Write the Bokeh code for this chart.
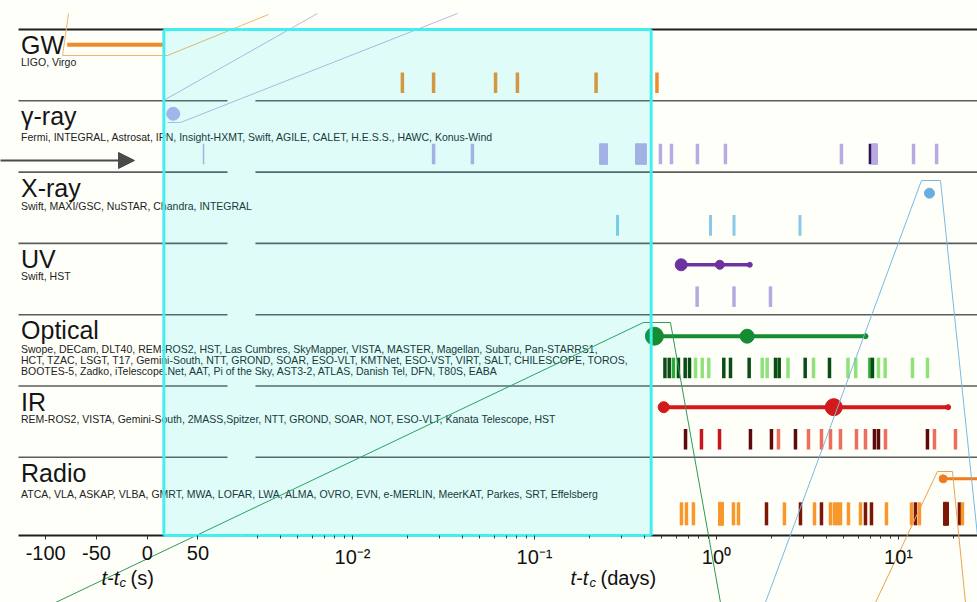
import numpy as np
from bokeh.plotting import figure
from bokeh.models import (Range1d, LinearScale, FixedTicker, CustomJSTickFormatter, Label,
                          Arrow, NormalHead, ColumnDataSource, LinearAxis, LogAxis)
from bokeh.embed import file_html
from bokeh.resources import INLINE
from bokeh.core.properties import value

# ---------------- data ----------------
bands = ["GW", "γ-ray", "X-ray", "UV", "Optical", "IR", "Radio"]
instruments = [
    ["LIGO, Virgo"],
    ["Fermi, INTEGRAL, Astrosat, IPN, Insight-HXMT, Swift, AGILE, CALET, H.E.S.S., HAWC, Konus-Wind"],
    ["Swift, MAXI/GSC, NuSTAR, Chandra, INTEGRAL"],
    ["Swift, HST"],
    ["Swope, DECam, DLT40, REM-ROS2, HST, Las Cumbres, SkyMapper, VISTA, MASTER, Magellan, Subaru, Pan-STARRS1,",
     "HCT, TZAC, LSGT, T17, Gemini-South, NTT, GROND, SOAR, ESO-VLT, KMTNet, ESO-VST, VIRT, SALT, CHILESCOPE, TOROS,",
     "BOOTES-5, Zadko, iTelescope.Net, AAT, Pi of the Sky, AST3-2, ATLAS, Danish Tel, DFN, T80S, EABA"],
    ["REM-ROS2, VISTA, Gemini-South, 2MASS,Spitzer, NTT, GROND, SOAR, NOT, ESO-VLT, Kanata Telescope, HST"],
    ["ATCA, VLA, ASKAP, VLBA, GMRT, MWA, LOFAR, LWA, ALMA, OVRO, EVN, e-MERLIN, MeerKAT, Parkes, SRT, Effelsberg"],
]

# seconds panel (t - tc in s)
gw_signal_s = [-78.8, 16.4]
grb_detect_s = [25.6]
gamma_obs_s = [55.5]

# days panel (t - tc in days)
gw_obs_d = [0.0188, 0.0279, 0.0611, 0.0806, 0.218, 0.471]
gamma_obs_d = [0.0279, 0.0456, 0.492, 0.566, 0.786, 1.12, 4.86, 12.1, 16.2]
gamma_span_start_d = [0.228, 0.359, 7.11]
gamma_span_end_d = [0.252, 0.412, 7.67]
gamma_dark_d = [6.97]
xray_obs_d = [0.286, 0.927, 1.248, 2.876]
xray_detect_d = [14.8]
uv_obs_d = [0.783, 1.248, 1.980]
uv_detect_d = [0.640, 1.043, 1.524]
optical_obs_d = [0.521, 0.550, 0.580, 0.618, 0.673, 0.711, 0.767, 0.835, 0.907, 1.097,
                 1.194, 1.512, 1.783, 1.899, 2.110, 2.211, 2.471, 3.072, 3.412, 4.178,
                 5.280, 5.826, 6.973, 7.197, 7.765, 8.451, 11.94, 14.43]
optical_shade = [0, 0, 1, 0, 0, 0, 2, 2, 2, 0,
                 0, 0, 2, 2, 0, 0, 2, 0, 2, 0,
                 2, 2, 1, 0, 2, 2, 2, 2]
optical_detect_d = [0.456, 1.474, 6.59]
ir_obs_d = [0.676, 0.827, 1.039, 1.537, 2.005, 2.191, 2.717, 3.203, 3.775, 4.231,
            4.801, 5.877, 6.587, 7.380, 7.765, 8.484, 14.43, 15.77, 20.57]
ir_shade = [0, 1, 1, 0, 0, 2, 0, 2, 2, 2,
            2, 2, 2, 0, 0, 2, 0, 2, 2]
ir_detect_d = [0.513, 4.41, 18.75]
radio_obs_d = [0.642, 0.684, 0.747, 1.240, 1.321, 1.883, 2.363, 2.894, 3.456, 3.775,
               4.231, 4.450, 4.622, 4.801, 5.313, 6.183, 6.587, 7.108, 8.592, 11.79,
               12.40, 13.04, 21.63, 22.46]
radio_shade = [1, 1, 1, 1, 1, 0, 1, 0, 1, 0,
               1, 1, 1, 1, 1, 1, 0, 0, 1, 1,
               0, 1, 0, 1]
radio_span_start_d = [1.026, 17.67]
radio_span_end_d = [1.093, 18.83]
radio_span_shade = [1, 0]
radio_detect_d = [17.6]

sec_ticks = [-100, -50, 0, 50]
day_ticks = [0.01, 0.1, 1, 10]

# ---------------- style / layout ----------------
BG = "#fffffa"
FONT = "Liberation Sans"
SEC_MAIN = (-144.53, 818.0)
DAY_MAIN = (1.164e-4, 27.18)
Y_RANGE = (8.0365, -0.4067)
Y_BOTTOM = 7.0968
SPLIT_SEC, SPLIT_DAY = 92.9, 0.002455
LINE_SEC = (-126.8, 79.1)
LINE_DAY = (0.00293, 40.0)
BAR_Y = [(0.603, 0.891)] * 6 + [(0.631, 0.954)]
DOT_Y = [0.215, 0.182, 0.296, 0.300, 0.3015, 0.297, 0.302]
TEXT_X = -124.3
TITLE_DY = 0.22
INST_DY = [0.459, 0.501, 0.478, 0.459, 0.484, 0.466, 0.515]
INST_LH = 0.150
BOX_SEC_LEFT, BOX_DAY_RIGHT = 16.4, 0.4377

GW_C = "#f08c28"
GAMMA_C, GAMMA_DARK = "#b8aae2", "#2c1656"
XRAY_C, XRAY_DOT = "#88c8e8", "#6aaee0"
UV_C, UV_BAR = "#6e32a0", "#b4aae0"
OPT_C = "#158c32"
OPT_SHADES = ["#0a4d14", "#2ea836", "#8fe27a"]
IR_C = "#d21a1a"
IR_SHADES = ["#5c0a0a", "#c8161c", "#ee6e5e"]
RADIO_C = "#f07a1e"
RADIO_SHADES = ["#7c1606", "#f8982c"]

# decorative zoom-guide outlines (from the original animation frame)
DECOR_SEC = [
    ([-77.5, -83.4, 20.0, 92.9], [-0.2244, 0.3647, 0.3647, -0.0567], "#f2b468"),
    ([16.06, 92.9], [0.9958, 0.3778], "#bcb6de"),
    ([20.0, 32.8, 92.9], [1.3044, 1.3044, 0.9676], "#bcb6de"),
    ([-90.3, 92.9], [8.0365, 6.7943], "#2e9a52"),
]
DECOR_DAY = [
    ([0.002455, 0.003455], [-0.0567, -0.2104], "#f2b468"),
    ([0.002455, 0.006423], [0.3778, -0.2244], "#bcb6de"),
    ([0.002455, 0.03775], [0.9676, -0.2244], "#bcb6de"),
    ([0.002455, 0.3972, 0.5587, 1.0519], [6.7943, 4.1094, 4.1094, 8.0365], "#2e9a52"),
    ([1.858, 13.38, 17.01, 29.68], [8.0365, 2.1178, 2.1178, 8.0365], "#7ab8e0"),
    ([7.475, 16.38, 19.80, 23.34], [8.0365, 6.1992, 6.1992, 8.0365], "#e8a452"),
]

# ---------------- figure ----------------
p = figure(frame_width=977, frame_height=602, x_axis_type="log",
           x_range=Range1d(*DAY_MAIN), y_range=Range1d(*Y_RANGE),
           output_backend="svg", toolbar_location=None,
           x_axis_location=None, y_axis_location=None, min_border=0,
           background_fill_color=BG, border_fill_color=BG, outline_line_color=None)
p.extra_x_ranges = {"sec": Range1d(*SEC_MAIN)}
p.extra_x_scales = {"sec": LinearScale()}
p.grid.grid_line_color = None

# row separator lines
row_lines = list(range(7)) + [Y_BOTTOM]
for i, yv in enumerate(row_lines):
    col = "#1e1e1e" if i in (0, 7) else "#5c5c5c"
    lw = 2 if i in (0, 7) else 1.6
    p.line(list(LINE_SEC), [yv, yv], line_color=col, line_width=lw, x_range_name="sec")
    p.line(list(LINE_DAY), [yv, yv], line_color=col, line_width=lw)

# texts
title_y = [i + TITLE_DY for i in range(len(bands))]
p.text(x=[TEXT_X] * len(bands), y=title_y, text=bands, x_range_name="sec",
       text_font=value(FONT), text_font_size="25px", text_color="#151515",
       text_baseline="alphabetic", text_align="left")
ix, iy, it = [], [], []
for i, lines in enumerate(instruments):
    for j, t in enumerate(lines):
        ix.append(TEXT_X)
        iy.append(i + INST_DY[i] + j * INST_LH)
        it.append(t)
p.text(x=ix, y=iy, text=it, x_range_name="sec", text_font=value(FONT),
       text_font_size="10.5px", text_color="#222222", text_baseline="alphabetic")


def add_bars(xs, row_i, colors, lw=3.5, rng="default"):
    t, b = BAR_Y[row_i]
    src = ColumnDataSource(dict(x=xs, y0=[row_i + t] * len(xs),
                                y1=[row_i + b] * len(xs), c=colors))
    p.segment(x0="x", x1="x", y0="y0", y1="y1", line_color="c", line_width=lw,
              source=src, x_range_name=rng)


def add_spans(starts, ends, row_i, colors):
    t, b = BAR_Y[row_i]
    src = ColumnDataSource(dict(l=starts, r=ends, c=colors))
    p.quad(left="l", right="r", top=row_i + t, bottom=row_i + b,
           fill_color="c", line_color="c", line_width=1, source=src)


def add_detect(xs, row_i, color, sizes, lw, x_end=None, rng="default"):
    y = row_i + DOT_Y[row_i]
    lx = list(xs) + ([x_end] if x_end is not None else [])
    if len(lx) > 1:
        p.line(lx, [y] * len(lx), line_color=color, line_width=lw, x_range_name=rng)
    p.scatter(list(xs), [y] * len(xs), size=sizes, fill_color=color, line_color=color,
              x_range_name=rng)


# GW
p.line(gw_signal_s, [DOT_Y[0]] * 2, line_color=GW_C, line_width=4, x_range_name="sec")
add_bars(gw_obs_d, 0, [GW_C] * len(gw_obs_d), lw=3.5)
# gamma
add_detect(grb_detect_s, 1, "#b4b0ec", [13], 0, rng="sec")
add_bars(gamma_obs_s, 1, [GAMMA_C], lw=1.5, rng="sec")
add_bars(gamma_obs_d, 1, [GAMMA_C] * len(gamma_obs_d))
add_spans(gamma_span_start_d, gamma_span_end_d, 1, [GAMMA_C] * len(gamma_span_start_d))
add_bars(gamma_dark_d, 1, [GAMMA_DARK], lw=2.5)
# X-ray
add_bars(xray_obs_d, 2, [XRAY_C] * len(xray_obs_d), lw=3)
add_detect(xray_detect_d, 2, XRAY_DOT, [10], 0)
# UV
add_bars(uv_obs_d, 3, [UV_BAR] * len(uv_obs_d), lw=3.5)
add_detect(uv_detect_d, 3, UV_C, [12, 9, 5], 3.5)
# Optical
add_bars(optical_obs_d, 4, [OPT_SHADES[s] for s in optical_shade], lw=3.5)
add_detect(optical_detect_d, 4, OPT_C, [18, 14, 5], 4)
# IR
add_bars(ir_obs_d, 5, [IR_SHADES[s] for s in ir_shade], lw=3.5)
add_detect(ir_detect_d, 5, IR_C, [11, 17, 5], 4)
# Radio
add_bars(radio_obs_d, 6, [RADIO_SHADES[s] for s in radio_shade], lw=3.5)
add_spans(radio_span_start_d, radio_span_end_d, 6, [RADIO_SHADES[s] for s in radio_span_shade])
add_detect(radio_detect_d, 6, RADIO_C, [8], 3, x_end=DAY_MAIN[1] * 2)

# decorative guides
for xs, ys, c in DECOR_SEC:
    p.line(xs, ys, line_color=c, line_width=1, x_range_name="sec")
for xs, ys, c in DECOR_DAY:
    p.line(xs, ys, line_color=c, line_width=1)

# highlighted box
p.quad(left=BOX_SEC_LEFT, right=SPLIT_SEC, top=0, bottom=Y_BOTTOM, fill_color="#00e5ee",
       fill_alpha=0.12, line_color=None, x_range_name="sec")
p.quad(left=SPLIT_DAY, right=BOX_DAY_RIGHT, top=0, bottom=Y_BOTTOM, fill_color="#00e5ee",
       fill_alpha=0.12, line_color=None)
BOX_C = "#44eeee"
p.multi_line(xs=[[BOX_SEC_LEFT, SPLIT_SEC], [BOX_SEC_LEFT, SPLIT_SEC], [BOX_SEC_LEFT, BOX_SEC_LEFT]],
             ys=[[0, 0], [Y_BOTTOM, Y_BOTTOM], [0, Y_BOTTOM]], line_color=BOX_C, line_width=3,
             x_range_name="sec")
p.multi_line(xs=[[SPLIT_DAY, BOX_DAY_RIGHT], [SPLIT_DAY, BOX_DAY_RIGHT], [BOX_DAY_RIGHT, BOX_DAY_RIGHT]],
             ys=[[0, 0], [Y_BOTTOM, Y_BOTTOM], [0, Y_BOTTOM]], line_color=BOX_C, line_width=3)

# arrow
p.add_layout(Arrow(end=NormalHead(size=16, fill_color="#4a4a4a", line_color="#4a4a4a"),
                   x_start=-150, y_start=1.8373, x_end=-12.5, y_end=1.8373,
                   line_color="#4a4a4a", line_width=2.2, x_range_name="sec"))


# ---------------- axes (fixed at the bottom rule) ----------------
def style_axis(ax):
    ax.axis_line_color = None
    ax.major_tick_in = 0
    ax.major_tick_out = 4
    ax.minor_tick_in = 0
    ax.minor_tick_out = 3
    ax.major_tick_line_color = "#333333"
    ax.minor_tick_line_color = "#333333"
    ax.major_label_text_font = FONT
    ax.major_label_text_font_size = "20px"
    ax.major_label_text_color = "#111111"
    ax.major_label_standoff = 7
    ax.fixed_location = Y_BOTTOM


ax_sec = LinearAxis(x_range_name="sec", ticker=FixedTicker(ticks=sec_ticks))
ax_sec.formatter = CustomJSTickFormatter(code="return String(Math.round(tick));")
style_axis(ax_sec)
p.add_layout(ax_sec, "below")

ax_day = LogAxis(ticker=FixedTicker(ticks=day_ticks,
                                    minor_ticks=[m * 10.0 ** k for k in range(-3, 2)
                                                 for m in range(2, 10) if m * 10.0 ** k >= 0.003]))
ax_day.formatter = CustomJSTickFormatter(code="""
const sup = {"-2": "\u207b\u00b2", "-1": "\u207b\u00b9", "0": "\u2070", "1": "\u00b9"};
const e = Math.round(Math.log10(tick));
return "10" + (sup[String(e)] || String(e));
""")
style_axis(ax_day)
p.add_layout(ax_day, "below")


def axis_title(x0, xc, xu, unit):
    p.add_layout(Label(x=x0, y=25, x_units="screen", y_units="screen", text="t-t",
                       text_font=FONT, text_font_size="20px", text_font_style="italic",
                       text_color="#111111", text_baseline="alphabetic"))
    p.add_layout(Label(x=xc, y=20, x_units="screen", y_units="screen", text="c",
                       text_font=FONT, text_font_size="13px", text_font_style="italic",
                       text_color="#111111", text_baseline="alphabetic"))
    p.add_layout(Label(x=xu, y=25, x_units="screen", y_units="screen", text=unit,
                       text_font=FONT, text_font_size="20px",
                       text_color="#111111", text_baseline="alphabetic"))


axis_title(101, 119, 130, "(s)")
axis_title(570, 589, 600, "(days)")

open("out.html", "w").write(file_html(p, INLINE))
